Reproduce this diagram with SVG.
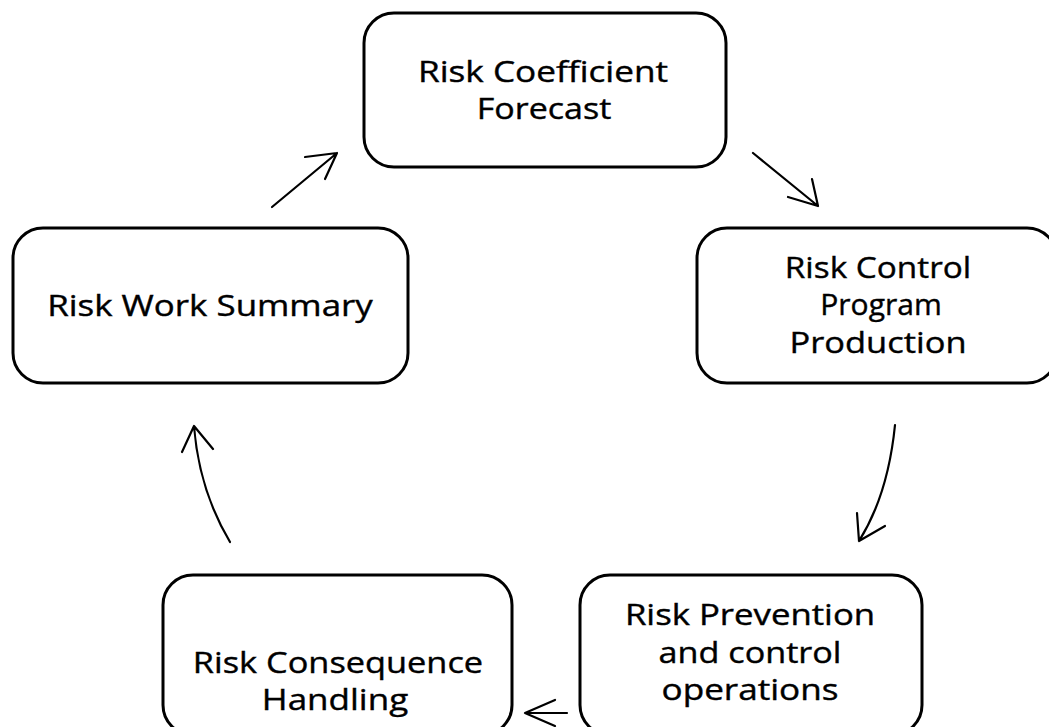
<svg xmlns="http://www.w3.org/2000/svg" width="1049" height="727" viewBox="0 0 1049 727">
  <style>
    .box { fill: #ffffff; stroke: #000000; stroke-width: 3; }
    .label { font-family: "Open Sans", "Liberation Sans", sans-serif; font-size: 30px; fill: #000000; stroke: #000000; stroke-width: 0.4; text-anchor: middle; }
    .flow { fill: none; stroke: #000000; stroke-width: 2.2; stroke-linecap: round; stroke-linejoin: round; }
  </style>
  <rect x="0" y="0" width="1049" height="727" fill="#ffffff"/>

  <!-- labels are set in a slightly widened face: translate to the line centre, then stretch 1.18x horizontally -->
  <g id="node-forecast">
    <rect class="box" x="364" y="13" width="362" height="154" rx="30"/>
    <text class="label" transform="translate(543,82) scale(1.18,1)" textLength="212" lengthAdjust="spacingAndGlyphs">Risk Coefficient</text>
    <text class="label" transform="translate(544,119) scale(1.18,1)" textLength="114" lengthAdjust="spacingAndGlyphs">Forecast</text>
  </g>

  <g id="node-program">
    <rect class="box" x="697" y="228" width="360" height="155" rx="30"/>
    <text class="label" transform="translate(878,278) scale(1.18,1)" textLength="158" lengthAdjust="spacingAndGlyphs">Risk Control</text>
    <text class="label" transform="translate(881,315) scale(1.18,1)" textLength="103" lengthAdjust="spacingAndGlyphs">Program</text>
    <text class="label" transform="translate(878,353) scale(1.18,1)" textLength="150" lengthAdjust="spacingAndGlyphs">Production</text>
  </g>

  <g id="node-operations">
    <rect class="box" x="580" y="575" width="342" height="160" rx="30"/>
    <text class="label" transform="translate(750,625) scale(1.18,1)" textLength="212" lengthAdjust="spacingAndGlyphs">Risk Prevention</text>
    <text class="label" transform="translate(750,663) scale(1.18,1)" textLength="155" lengthAdjust="spacingAndGlyphs">and control</text>
    <text class="label" transform="translate(750,700) scale(1.18,1)" textLength="150" lengthAdjust="spacingAndGlyphs">operations</text>
  </g>

  <g id="node-consequence">
    <rect class="box" x="163" y="575" width="349" height="160" rx="30"/>
    <text class="label" transform="translate(338,673) scale(1.18,1)" textLength="246" lengthAdjust="spacingAndGlyphs">Risk Consequence</text>
    <text class="label" transform="translate(335,710) scale(1.18,1)" textLength="124" lengthAdjust="spacingAndGlyphs">Handling</text>
  </g>

  <g id="node-summary">
    <rect class="box" x="13" y="228" width="395" height="155" rx="30"/>
    <text class="label" transform="translate(210,316) scale(1.18,1)" textLength="276" lengthAdjust="spacingAndGlyphs">Risk Work Summary</text>
  </g>

  <g id="connectors">
    <!-- summary -> forecast -->
    <path class="flow" d="M272,207 L337,153 M305,157 L337,153 L325,179"/>
    <!-- forecast -> program -->
    <path class="flow" d="M753,153 L818,206 M812,179 L818,206 L788,197"/>
    <!-- program -> operations -->
    <path class="flow" d="M895,425 Q888,495 859,541 M857,513 L859,541 L885,526"/>
    <!-- operations -> consequence -->
    <path class="flow" d="M567,713 L525,713 M555,700 L525,713 L555,726"/>
    <!-- consequence -> summary -->
    <path class="flow" d="M230,542 Q199,490 194,426 M182,452 L194,426 L213,449"/>
  </g>
</svg>
